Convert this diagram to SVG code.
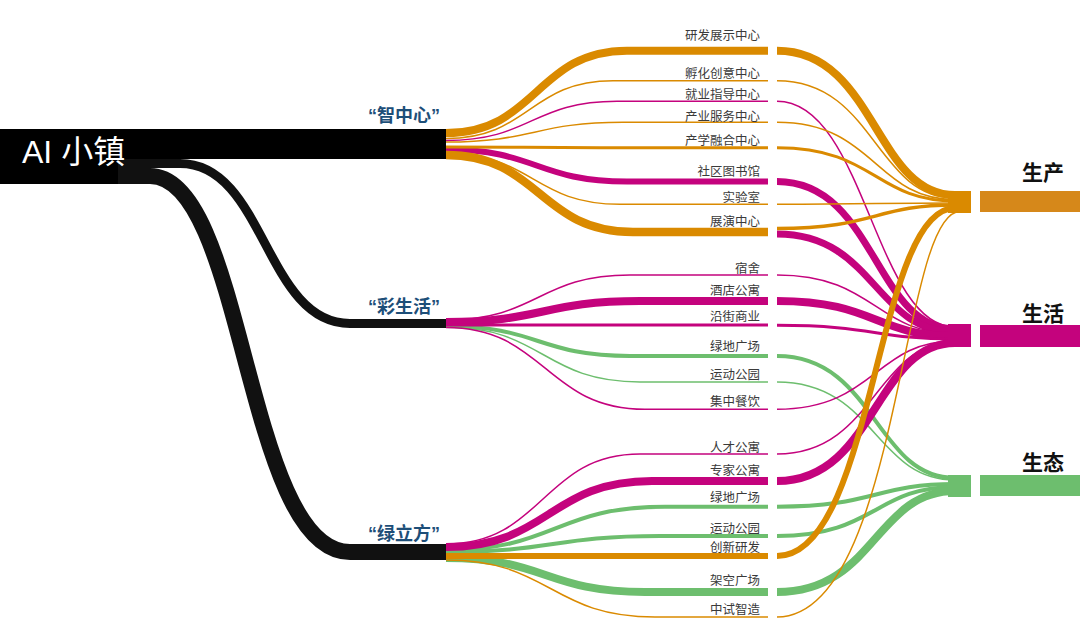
<svg xmlns="http://www.w3.org/2000/svg" width="1080" height="635" viewBox="0 0 1080 635">
<style>
.f{fill:none;stroke-linecap:butt}
.o{stroke:#DA8A00}
.m{stroke:#C4037D}
.g{stroke:#6DBE6E}
.k{stroke:#111111}
.lb{font-family:"Noto Sans CJK SC","Liberation Sans",sans-serif;font-size:12.5px;fill:#3a3a3a;text-anchor:end}
.grp{font-family:"Liberation Sans","Noto Sans CJK SC",sans-serif;font-size:18px;font-weight:bold;fill:#1D4E78;text-anchor:middle}
.tgt{font-family:"Noto Sans CJK SC",sans-serif;font-size:21px;font-weight:bold;fill:#111;text-anchor:middle}
</style>
<rect width="1080" height="635" fill="#ffffff"/>
<g id="connectors">
  <!-- black flows from AI town -->
  <path class="f k" stroke-width="9" d="M118,163.5 H180 C265,163.5 265,323.5 350,323.5 H446"/>
  <path class="f k" stroke-width="16" d="M118,176 H150 C245,176 245,552 350,552 H446"/>
  <!-- stage 1: 智中心 -->
  <path class="f o" stroke-width="8" d="M446,133 C536.5,133 536.5,50.7 627,50.7 H768"/>
  <path class="f o" stroke-width="1.5" d="M446,138.5 C529.5,138.5 529.5,80.7 613,80.7 H768"/>
  <path class="f m" stroke-width="1.5" d="M446,140.5 C531.5,140.5 531.5,101.3 617,101.3 H768"/>
  <path class="f o" stroke-width="1.5" d="M446,142 C534.5,142 534.5,122.3 623,122.3 H768"/>
  <path class="f m" stroke-width="6" d="M446,149.5 C536.5,149.5 536.5,181.5 627,181.5 H768"/>
  <path class="f o" stroke-width="3" d="M446,147 C523,147 523,147.7 600,147.7 H768"/>
  <path class="f o" stroke-width="1.5" d="M446,153.5 C533,153.5 533,204.3 620,204.3 H768"/>
  <path class="f o" stroke-width="8.5" d="M446,155 C539.5,155 539.5,232 633,232 H768"/>
  <!-- stage 1: 彩生活 -->
  <path class="f g" stroke-width="4" d="M446,326 C538,326 538,356 630,356 H768"/>
  <path class="f g" stroke-width="1.5" d="M446,327 C543,327 543,382 640,382 H768"/>
  <path class="f m" stroke-width="1.5" d="M446,320 C538,320 538,275 630,275 H768"/>
  <path class="f m" stroke-width="8" d="M446,322 C543,322 543,301 640,301 H768"/>
  <path class="f m" stroke-width="3" d="M446,325 H768"/>
  <path class="f m" stroke-width="1.5" d="M446,327.5 C545.5,327.5 545.5,409.3 645,409.3 H768"/>
  <!-- stage 1: 绿立方 -->
  <path class="f g" stroke-width="4" d="M446,550 C555.5,550 555.5,506.7 665,506.7 H768"/>
  <path class="f g" stroke-width="4" d="M446,552 C553,552 553,536 660,536 H768"/>
  <path class="f g" stroke-width="8" d="M446,558 C545.5,558 545.5,592 645,592 H768"/>
  <path class="f m" stroke-width="1.5" d="M446,544 C543,544 543,454 640,454 H768"/>
  <path class="f m" stroke-width="8" d="M446,547 C549,547 549,481 652,481 H768"/>
  <path class="f o" stroke-width="6" d="M446,556 H768"/>
  <path class="f o" stroke-width="1.5" d="M446,560 C550.5,560 550.5,617 655,617 H768"/>
  <!-- stage 2: to 生态 -->
  <path class="f g" stroke-width="4" d="M777,356 C875,356 875,478 955,478 H971"/>
  <path class="f g" stroke-width="1.5" d="M777,382 C875,382 875,480 955,480 H971"/>
  <path class="f g" stroke-width="4" d="M777,506.7 C875,506.7 875,484 955,484 H971"/>
  <path class="f g" stroke-width="4" d="M777,536 C875,536 875,487 955,487 H971"/>
  <path class="f g" stroke-width="8" d="M777,592 C875,592 875,491 955,491 H971"/>
  <!-- stage 2: to 生活 -->
  <path class="f m" stroke-width="1.5" d="M777,101.3 C865,101.3 875,327 955,327 H971"/>
  <path class="f m" stroke-width="7" d="M777,181.5 C875,181.5 875,329 955,329 H971"/>
  <path class="f m" stroke-width="7" d="M777,234 C875,234 875,332 955,332 H971"/>
  <path class="f m" stroke-width="1.5" d="M777,275 C875,275 875,333.5 955,333.5 H971"/>
  <path class="f m" stroke-width="8" d="M777,301 C875,301 875,336 955,336 H971"/>
  <path class="f m" stroke-width="3" d="M777,325.3 C875,325.3 875,339 955,339 H971"/>
  <path class="f m" stroke-width="1.5" d="M777,409.3 C875,409.3 875,341 955,341 H971"/>
  <path class="f m" stroke-width="1.5" d="M777,454 C875,454 875,342 955,342 H971"/>
  <path class="f m" stroke-width="8" d="M777,481 C875,481 875,343 955,343 H971"/>
  <!-- stage 2: to 生产 -->
  <path class="f o" stroke-width="8" d="M777,50.7 C875,50.7 875,195 955,195 H971"/>
  <path class="f o" stroke-width="1.5" d="M777,80.7 C875,80.7 875,198 955,198 H971"/>
  <path class="f o" stroke-width="1.5" d="M777,122.3 C875,122.3 875,199.5 955,199.5 H971"/>
  <path class="f o" stroke-width="3" d="M777,147.7 C875,147.7 875,201 955,201 H971"/>
  <path class="f o" stroke-width="1.5" d="M777,204.3 C875,204.3 875,203 955,203 H971"/>
  <path class="f o" stroke-width="3.5" d="M777,228.5 C875,228.5 875,205 955,205 H971"/>
  <path class="f o" stroke-width="6" d="M777,556 C875,556 875,208 955,208 H971"/>
  <path class="f o" stroke-width="1.5" d="M777,617 C900,617 900,211.5 960,211.5 H971"/>
</g>
<g id="node-ai">
  <rect x="0" y="129" width="446" height="30" fill="#000"/>
  <rect x="0" y="159" width="118" height="25" fill="#000"/>
  <text x="22" y="163" font-family="Liberation Sans,Noto Sans CJK SC,sans-serif" font-size="32" fill="#ffffff">AI 小镇</text>
</g>
<g id="node-zhi"><text class="grp" x="404" y="122">“智中心”</text></g>
<g id="node-cai"><text class="grp" x="404" y="313">“彩生活”</text></g>
<g id="node-lv"><text class="grp" x="404" y="540">“绿立方”</text></g>
<g id="mid-labels">
  <g id="n1"><text class="lb" x="760" y="40">研发展示中心</text></g>
  <g id="n2"><text class="lb" x="760" y="78">孵化创意中心</text></g>
  <g id="n3"><text class="lb" x="760" y="99">就业指导中心</text></g>
  <g id="n4"><text class="lb" x="760" y="121">产业服务中心</text></g>
  <g id="n5"><text class="lb" x="760" y="145">产学融合中心</text></g>
  <g id="n6"><text class="lb" x="760" y="176">社区图书馆</text></g>
  <g id="n7"><text class="lb" x="760" y="202">实验室</text></g>
  <g id="n8"><text class="lb" x="760" y="226">展演中心</text></g>
  <g id="n9"><text class="lb" x="760" y="273">宿舍</text></g>
  <g id="n10"><text class="lb" x="760" y="295">酒店公寓</text></g>
  <g id="n11"><text class="lb" x="760" y="321">沿街商业</text></g>
  <g id="n12"><text class="lb" x="760" y="351">绿地广场</text></g>
  <g id="n13"><text class="lb" x="760" y="379">运动公园</text></g>
  <g id="n14"><text class="lb" x="760" y="406">集中餐饮</text></g>
  <g id="n15"><text class="lb" x="760" y="452">人才公寓</text></g>
  <g id="n16"><text class="lb" x="760" y="475">专家公寓</text></g>
  <g id="n17"><text class="lb" x="760" y="502">绿地广场</text></g>
  <g id="n18"><text class="lb" x="760" y="533">运动公园</text></g>
  <g id="n19"><text class="lb" x="760" y="552">创新研发</text></g>
  <g id="n20"><text class="lb" x="760" y="585">架空广场</text></g>
  <g id="n21"><text class="lb" x="760" y="614">中试智造</text></g>
</g>
<g id="node-shengchan">
  <rect x="948" y="191" width="23" height="22" fill="#DA8A00"/>
  <rect x="980" y="191" width="100" height="21" fill="#D6881A"/>
  <text class="tgt" x="1043" y="180">生产</text>
</g>
<g id="node-shenghuo">
  <rect x="948" y="324" width="23" height="23" fill="#C4037D"/>
  <rect x="980" y="325" width="100" height="22" fill="#C4037D"/>
  <text class="tgt" x="1043" y="321">生活</text>
</g>
<g id="node-shengtai">
  <rect x="948" y="475" width="23" height="22" fill="#6DBE6E"/>
  <rect x="980" y="475" width="100" height="21" fill="#6DBE6E"/>
  <text class="tgt" x="1043" y="470">生态</text>
</g>
</svg>
